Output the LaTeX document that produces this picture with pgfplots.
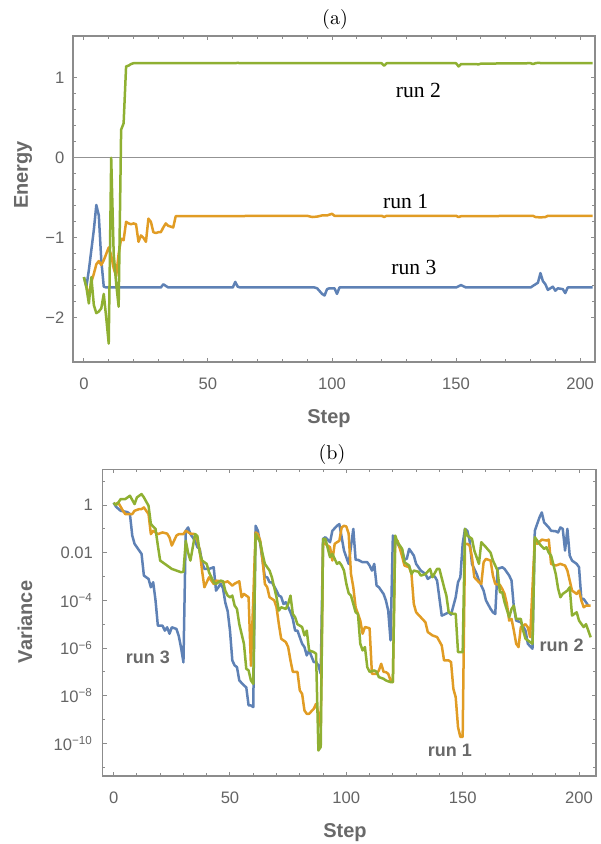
\documentclass[border=0pt]{standalone}
\usepackage{fontspec}
\usepackage{pgfplots}
\pgfplotsset{compat=1.18}
\newfontfamily\arial{Liberation Sans}
\newfontfamily\tnr{Liberation Serif}
\definecolor{mblue}{RGB}{94,129,181}
\definecolor{morange}{RGB}{225,156,36}
\definecolor{mgreen}{RGB}{143,176,50}
\definecolor{framec}{RGB}{140,140,140}
\definecolor{tickc}{RGB}{100,100,100}
\definecolor{labc}{RGB}{105,105,105}
\pgfplotsset{mstyle/.style={
  scale only axis,
  axis line style={framec, line width=0.55pt},
  every tick/.style={framec, line width=0.5pt},
  tick align=inside,
  major tick length=2pt, minor tick length=1.3pt,
  tick label style={font=\arial\fontsize{8.3}{10}\selectfont, text=tickc},
  /pgf/number format/assume math mode=true,
  every axis plot/.append style={line width=1.25pt, line join=round, mark=none},
}}
\begin{document}
\begin{tikzpicture}
\useasboundingbox (0,0) rectangle (300pt,422pt);
% ---------- panel (a)
\begin{axis}[mstyle, at={(36.5pt,241pt)}, anchor=south west, width=261pt, height=163pt,
  xmin=-4.4, xmax=206, ymin=-2.55, ymax=1.52,
  xtick={0,50,100,150,200}, minor x tick num=4,
  ytick={-2,-1,0,1}, yticklabels={−2,−1,0,1}, minor y tick num=4,
  xticklabel shift=4.5pt, yticklabel shift=0.8pt]
\draw[gray!85, line width=0.5pt] (axis cs:-10,0) -- (axis cs:220,0);
\addplot[mblue] coordinates {(0,-1.49)(1,-1.61)(2,-1.4)(3,-1.15)(4,-0.9)(5,-0.59)(6,-0.72)(7,-1.28)(8,-1.61)(9,-1.62)(31,-1.62)(32,-1.58)(33,-1.6)(34,-1.62)(60,-1.62)(61,-1.55)(62,-1.61)(63,-1.62)(93,-1.62)(94,-1.63)(96,-1.70)(97,-1.72)(98,-1.64)(99,-1.63)(101,-1.63)(102,-1.70)(103,-1.62)(150,-1.62)(152,-1.59)(154,-1.62)(180,-1.62)(182,-1.58)(183,-1.56)(184,-1.44)(185,-1.54)(186,-1.58)(187,-1.65)(188,-1.63)(189,-1.61)(190,-1.66)(191,-1.63)(193,-1.64)(194,-1.69)(195,-1.62)(205,-1.62)};
\addplot[morange] coordinates {(1,-1.6)(2,-1.74)(3,-1.55)(4,-1.45)(5,-1.33)(6,-1.29)(7,-1.34)(8,-1.28)(9,-1.2)(10,-1.12)(11,-1.22)(12,-1.38)(13,-1.48)(14,-1.2)(15,-1.01)(16,-1.03)(17,-0.8)(18,-0.82)(19,-0.83)(20,-0.82)(21,-0.83)(22,-1.05)(23,-0.97)(24,-1.0)(25,-1.05)(26,-0.76)(27,-0.8)(28,-0.93)(29,-0.94)(30,-0.93)(31,-0.93)(32,-0.87)(33,-0.82)(34,-0.85)(35,-0.86)(36,-0.87)(37,-0.73)(90,-0.725)(92,-0.74)(94,-0.735)(96,-0.72)(98,-0.72)(99,-0.71)(100,-0.7)(101,-0.725)(120,-0.725)(121,-0.74)(122,-0.725)(150,-0.725)(151,-0.74)(152,-0.73)(181,-0.725)(182,-0.74)(184,-0.745)(186,-0.74)(187,-0.725)(205,-0.725)};
\addplot[mgreen] coordinates {(0,-1.49)(1,-1.62)(2,-1.82)(3,-1.49)(4,-1.84)(5,-1.94)(6,-1.92)(7,-1.88)(8,-1.7)(9,-2.0)(10,-2.32)(11,0)(12,-1.2)(13,-1.57)(14,-1.86)(15,0.35)(16,0.43)(17,1.14)(18,1.15)(19,1.17)(20,1.18)(61,1.18)(62,1.185)(63,1.18)(120,1.18)(121,1.15)(122,1.18)(150,1.18)(151,1.14)(152,1.17)(158,1.17)(159,1.165)(160,1.175)(180,1.18)(181,1.17)(182,1.18)(183,1.185)(185,1.18)(205,1.18)};
\node[font=\tnr\fontsize{10.8}{12}\selectfont] at (axis cs:134.8,0.846) {run 2};
\node[font=\tnr\fontsize{10.8}{12}\selectfont] at (axis cs:129.7,-0.54) {run 1};
\node[font=\tnr\fontsize{10.8}{12}\selectfont] at (axis cs:133,-1.37) {run 3};
\end{axis}
% ---------- panel (b)
\begin{axis}[mstyle, at={(51.35pt,34pt)}, anchor=south west, width=246.65pt, height=153.35pt,
  xmin=-4.7, xmax=207.3, ymin=-11.37, ymax=1.5,
  xtick={0,50,100,150,200}, minor x tick num=4,
  ytick={-10,-8,-6,-4,-2,0},
  yticklabels={10\textsuperscript{−10},10\textsuperscript{−8},10\textsuperscript{−6},10\textsuperscript{−4},0.01,1},
  minor ytick={-11,-9,-7,-5,-3,-1,1},
  xticklabel shift=4.5pt, yticklabel shift=1.4pt]
\addplot[mblue] coordinates {(0,0.1)(1,-0.07)(3,-0.24)(6,-0.3)(7,-0.38)(8,-1.28)(9,-1.63)(11,-1.91)(12,-2.05)(13,-2.96)(15,-3.1)(16,-3.45)(17,-3.24)(18,-4.0)(19,-5.06)(21,-5.06)(22,-5.27)(23,-5.13)(24,-5.4)(25,-5.13)(27,-5.2)(28,-5.5)(29,-6.0)(30,-6.6)(31,-1.08)(32,-0.94)(33,-1.22)(35,-1.5)(36,-1.77)(37,-1.84)(38,-2.4)(39,-2.68)(41,-2.68)(43,-2.61)(44,-3.59)(45,-3.45)(46,-3.3)(47,-3.5)(48,-4.1)(49,-4.45)(50,-5.27)(51,-6.52)(52,-6.73)(53,-6.8)(54,-7.36)(56,-7.57)(57,-7.65)(58,-8.41)(59,-8.41)(60,-8.48)(61,-0.87)(62,-1.08)(63,-1.63)(65,-3.03)(66,-3.03)(67,-3.24)(68,-3.24)(70,-3.59)(71,-3.8)(72,-3.85)(73,-4.15)(74,-4.08)(76,-4.5)(77,-4.78)(78,-5.27)(79,-5.27)(81,-5.82)(82,-5.96)(83,-6.31)(84,-6.1)(86,-6.59)(87,-6.59)(88,-6.73)(89,-7.08)(90,-1.42)(91,-1.35)(93,-1.56)(94,-1.08)(96,-0.87)(97,-0.8)(98,-1.35)(99,-1.91)(100,-2.19)(101,-2.47)(103,-1.0)(104,-2.3)(105,-2.3)(107,-2.4)(109,-2.4)(110,-2.54)(111,-2.75)(112,-2.47)(113,-3.38)(114,-3.45)(116,-3.73)(117,-4.0)(118,-4.43)(119,-5.68)(120,-1.28)(122,-1.63)(124,-1.91)(125,-2.3)(126,-2.25)(127,-1.84)(129,-2.12)(130,-2.47)(132,-2.75)(134,-2.89)(135,-3.1)(137,-2.96)(138,-3.0)(139,-3.17)(141,-4.64)(142,-4.6)(144,-4.5)(145,-4.6)(147,-3.87)(148,-3.24)(149,-3.03)(150,-1.63)(151,-1.0)(152,-1.08)(153,-1.5)(154,-2.47)(156,-2.89)(157,-3.17)(159,-3.59)(160,-4.0)(162,-4.36)(163,-4.5)(164,-4.57)(165,-2.68)(167,-2.61)(168,-2.68)(170,-2.96)(171,-3.17)(172,-4.29)(173,-4.85)(175,-4.92)(177,-5.27)(178,-5.82)(180,-6.03)(181,-1.08)(182,-0.8)(183,-0.52)(184,-0.31)(185,-0.73)(187,-0.94)(188,-1.08)(190,-1.1)(191,-1.15)(192,-0.94)(193,-1.0)(194,-1.91)(195,-1.0)(196,-2.12)(197,-2.33)(199,-2.47)(200,-2.61)(201,-3.94)(202,-3.94)(203,-4.08)(204,-4.22)};
\addplot[morange] coordinates {(1,0.05)(2,0.1)(4,-0.24)(5,-0.38)(8,-0.38)(9,-0.24)(11,-0.17)(12,-0.17)(13,-0.1)(15,-0.38)(16,-1.22)(17,-1.08)(19,-1.22)(21,-1.15)(23,-1.2)(24,-1.36)(25,-1.7)(27,-1.28)(28,-1.22)(30,-1.22)(31,-1.08)(33,-1.2)(35,-1.22)(36,-1.5)(37,-1.91)(38,-2.75)(39,-3.45)(40,-3.24)(41,-3.03)(43,-3.31)(44,-3.17)(46,-3.2)(48,-3.24)(49,-3.2)(51,-3.38)(52,-3.3)(54,-3.2)(55,-3.87)(56,-3.73)(58,-3.87)(59,-6.75)(61,-1.15)(62,-1.22)(63,-1.5)(64,-2.3)(65,-3.31)(66,-3.45)(67,-3.87)(69,-4.0)(70,-4.29)(71,-5.0)(72,-5.61)(74,-5.75)(75,-5.96)(76,-6.52)(77,-7.0)(79,-7.0)(80,-7.78)(81,-7.92)(82,-8.62)(83,-8.76)(84,-8.76)(86,-8.55)(87,-8.34)(88,-8.76)(89,-9.32)(90,-1.6)(91,-1.63)(93,-1.77)(94,-2.33)(95,-1.63)(96,-1.56)(97,-1.5)(98,-0.94)(99,-0.87)(100,-0.9)(101,-1.2)(102,-2.89)(103,-3.45)(104,-4.29)(106,-4.85)(107,-5.4)(108,-5.12)(110,-5.17)(111,-7.08)(113,-7.08)(114,-6.94)(115,-6.66)(116,-7.0)(117,-7.01)(118,-7.08)(119,-7.36)(120,-7.43)(121,-1.5)(122,-1.49)(124,-2.16)(125,-2.54)(127,-2.61)(128,-2.89)(129,-4.15)(130,-4.5)(132,-4.71)(134,-4.92)(135,-5.33)(137,-5.47)(139,-5.54)(141,-5.89)(142,-6.52)(144,-6.52)(145,-6.59)(146,-7.71)(147,-8.06)(148,-9.32)(149,-9.73)(150,-9.73)(151,-1.63)(152,-1.63)(153,-1.7)(154,-2.19)(155,-3.03)(157,-3.24)(158,-3.31)(159,-2.4)(160,-2.26)(162,-2.33)(163,-2.96)(164,-3.31)(166,-3.35)(167,-3.52)(168,-3.73)(169,-4.15)(170,-4.85)(171,-4.78)(172,-5.27)(173,-5.82)(174,-5.96)(175,-5.12)(177,-5.0)(178,-5.13)(179,-5.54)(181,-1.42)(182,-1.63)(184,-1.45)(186,-1.49)(187,-1.45)(188,-2.47)(190,-2.54)(192,-2.47)(194,-2.54)(195,-2.75)(196,-3.17)(197,-3.59)(199,-3.73)(200,-3.59)(201,-4.0)(202,-4.29)(203,-4.22)(205,-4.22)};
\addplot[mgreen] coordinates {(0,0.1)(1,0.0)(2,0.1)(3,0.25)(5,0.25)(7,0.39)(9,0.04)(10,0.32)(12,0.46)(13,0.32)(15,-0.03)(16,-0.8)(18,-1.0)(19,-1.7)(20,-2.33)(23,-2.54)(25,-2.68)(27,-2.75)(29,-2.82)(30,-2.8)(31,-1.5)(32,-2.0)(33,-2.33)(35,-1.22)(36,-1.3)(37,-2.0)(38,-2.33)(40,-2.47)(41,-2.82)(43,-3.24)(44,-3.31)(46,-3.17)(47,-3.2)(48,-3.6)(49,-3.8)(50,-3.87)(51,-3.8)(52,-4.22)(53,-4.36)(54,-5.0)(56,-5.82)(57,-6.87)(58,-6.94)(59,-7.36)(60,-7.5)(61,-1.22)(63,-1.56)(64,-2.05)(65,-2.47)(67,-2.75)(68,-3.03)(70,-3.87)(71,-4.43)(72,-4.29)(74,-4.36)(75,-4.15)(76,-3.8)(77,-4.57)(78,-4.71)(79,-5.0)(81,-5.12)(82,-5.47)(83,-5.27)(84,-6.1)(86,-6.17)(87,-6.24)(88,-10.3)(89,-10.15)(90,-1.42)(91,-1.42)(93,-2.19)(94,-2.05)(96,-2.47)(97,-2.4)(98,-2.54)(99,-2.75)(100,-3.3)(101,-3.7)(102,-3.8)(104,-4.5)(105,-4.57)(106,-5.82)(107,-6.1)(108,-5.96)(109,-6.8)(110,-7.0)(112,-6.94)(113,-7.0)(114,-7.22)(116,-7.29)(117,-7.36)(119,-7.43)(120,-7.43)(121,-1.28)(122,-1.56)(124,-1.84)(125,-2.4)(127,-2.54)(128,-2.89)(129,-2.75)(131,-2.8)(132,-2.96)(134,-2.9)(136,-2.68)(137,-3.03)(139,-2.68)(140,-2.68)(142,-3.45)(143,-3.8)(144,-4.5)(146,-4.57)(147,-4.57)(148,-6.17)(150,-6.17)(151,-1.0)(152,-1.28)(154,-1.42)(155,-1.91)(157,-2.47)(158,-1.56)(160,-1.77)(162,-2.0)(163,-2.33)(165,-2.75)(166,-3.66)(167,-3.66)(168,-4.08)(170,-4.71)(171,-4.36)(172,-4.22)(173,-4.78)(175,-4.78)(176,-5.27)(177,-5.61)(178,-5.68)(180,-5.82)(181,-1.35)(183,-1.63)(185,-1.84)(186,-1.77)(187,-2.0)(188,-2.12)(190,-2.89)(191,-3.5)(192,-3.87)(193,-3.73)(195,-3.59)(196,-3.45)(197,-4.64)(199,-4.5)(200,-4.85)(202,-5.12)(203,-5.0)(204,-5.27)(205,-5.55)};
\node[font=\arial\bfseries\fontsize{9}{11}\selectfont, text=labc] at (axis cs:14.7,-6.38) {run 3};
\node[font=\arial\bfseries\fontsize{9}{11}\selectfont, text=labc] at (axis cs:144.5,-10.28) {run 1};
\node[font=\arial\bfseries\fontsize{9}{11}\selectfont, text=labc, fill=white, inner sep=1pt] at (axis cs:192.5,-5.87) {run 2};
\end{axis}
% ---------- labels and titles
\node[font=\fontsize{10}{12}\selectfont] at (167.5pt,412pt) {(a)};
\node[font=\fontsize{10}{12}\selectfont] at (166pt,194.5pt) {(b)};
\node[rotate=90, font=\arial\bfseries\fontsize{10}{12}\selectfont, text=labc] at (11.5pt,334.5pt) {Energy};
\node[rotate=90, font=\arial\bfseries\fontsize{10}{12}\selectfont, text=labc] at (12.5pt,111pt) {Variance};
\node[font=\arial\bfseries\fontsize{10}{12}\selectfont, text=labc] at (164.5pt,212.5pt) {Step};
\node[font=\arial\bfseries\fontsize{10}{12}\selectfont, text=labc] at (172.5pt,5.5pt) {Step};
\end{tikzpicture}
\end{document}
